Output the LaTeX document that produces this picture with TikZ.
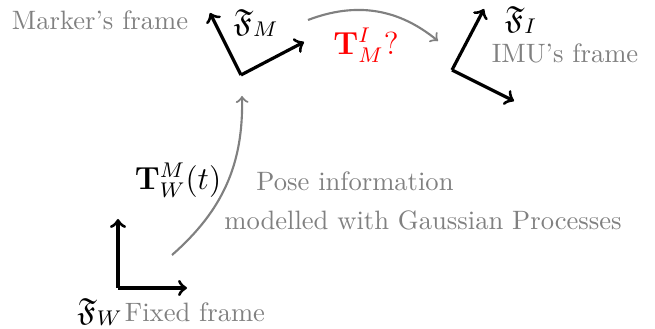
\documentclass[tikz,border=0pt]{standalone}
\usepackage{amsmath}
\usepackage{amssymb}
\usepackage{xcolor}
\usepackage{tikz}

\tikzset{
	axis/.style={very thick, ->},
	link/.style={thick, ->, gray},
	note/.style={gray, inner sep=1pt},
	flabel/.style={font=\large, inner sep=1pt}
}

\begin{document}
\begin{tikzpicture}[x=0.376pt, y=0.376pt]
	
	% Keep the page size fixed
	\useasboundingbox (0,0) rectangle (655,329);
	
	% Define the frame origins and axis ends
	% W: fixed frame, M: marker, I: IMU
	\coordinate (W0) at (118, 41);
	\coordinate (Wx) at (187, 41);
	\coordinate (Wy) at (118, 110);
	\coordinate (M0) at (241, 254);
	\coordinate (Mx) at (304, 287);
	\coordinate (My) at (210, 316);
	\coordinate (I0) at (452, 259);
	\coordinate (Ix) at (514, 228);
	\coordinate (Iy) at (484, 320);
	
	% Axes of the three frames
	\draw[axis] (W0) -- (Wx);
	\draw[axis] (W0) -- (Wy);
	\draw[axis] (M0) -- (Mx);
	\draw[axis] (M0) -- (My);
	\draw[axis] (I0) -- (Ix);
	\draw[axis] (I0) -- (Iy);
	
	% Frame names
	\node[flabel] (FW) at (100, 17) {$\mathfrak{F}_W$};
	\node[flabel] (FM) at (256, 306) {$\mathfrak{F}_M$};
	\node[flabel] (FI) at (521, 309) {$\mathfrak{F}_I$};
	\node[note] (fixed) at (195, 17) {Fixed frame};
	\node[note] (marker) at (100, 309) {Marker's frame};
	\node[note] (imu) at (565, 276) {IMU's frame};
	
	% Transformations between the frames
	\coordinate (Pa) at (172, 74);
	\coordinate (Pb) at (242, 233);
	\draw[link] (Pa) to[bend right=25] (Pb);
	\coordinate (Qa) at (308, 309);
	\coordinate (Qb) at (438, 288);
	\draw[link] (Qa) to[bend left=30] (Qb);
	
	\node[flabel] (TWM) at (178, 149) {$\mathbf{T}_W^M(t)$};
	\node[flabel, red] (TMI) at (366, 284) {$\mathbf{T}_M^I?$};
	\node[note] (pose) at (355, 148) {Pose information};
	\node[note] (gp) at (423, 109) {modelled with Gaussian Processes};
	
\end{tikzpicture}
\end{document}
